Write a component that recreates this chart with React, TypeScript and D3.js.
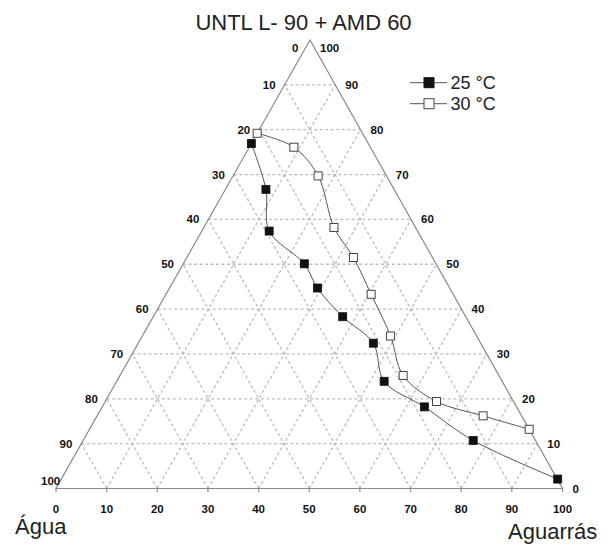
import React from 'react';
import * as d3 from 'd3';

// ternary data: aguarrás % (bottom axis) and tensoativo % (top vertex)
const aguarras25 = [0.0, 8.0, 13.3, 23.9, 29.2, 37.4, 46.4, 52.8, 63.6, 77.0, 98.0];
const tensoativo25 = [76.9, 66.7, 57.4, 50.1, 44.7, 38.3, 32.4, 23.9, 18.2, 10.7, 2.1];
const aguarras30 = [0.0, 8.8, 16.8, 25.7, 32.9, 40.5, 49.0, 55.9, 65.4, 76.2, 86.8];
const tensoativo30 = [79.2, 76.1, 69.7, 58.2, 51.5, 43.3, 34.0, 25.2, 19.4, 16.2, 13.2];

const ticks = [0, 10, 20, 30, 40, 50, 60, 70, 80, 90, 100];
const gridLevels = [10, 20, 30, 40, 50, 60, 70, 80, 90];
const seriesLabels = ['25 °C', '30 °C'];

const W = 613;
const H = 546;
const left = { x: 56, y: 488.5 };
const right = { x: 562.5, y: 488.5 };
const apex = { x: 310, y: 40 };

const aScale = d3.scaleLinear().domain([0, 100]).range([0, right.x - left.x]);
const sxScale = d3.scaleLinear().domain([0, 100]).range([0, apex.x - left.x]);
const yScale = d3.scaleLinear().domain([0, 100]).range([left.y, apex.y]);

const project = (a: number, s: number): [number, number] => [
  left.x + aScale(a) + sxScale(s),
  yScale(s),
];

const font = '"Liberation Sans", Arial, Helvetica, sans-serif';
const gridColor = '#bdbdbd';
const edgeColor = '#8a8a8a';
const lineColor = '#555';

export default function App() {
  const line = d3
    .line<[number, number]>()
    .x(d => d[0])
    .y(d => d[1])
    .curve(d3.curveCatmullRom.alpha(0.5));

  const pts25 = aguarras25.map((a, i) => project(a, tensoativo25[i]));
  const pts30 = aguarras30.map((a, i) => project(a, tensoativo30[i]));

  const grid: [number, number][][] = [];
  gridLevels.forEach(v => {
    grid.push([project(0, v), project(100 - v, v)]); // constant tensoativo
    grid.push([project(v, 0), project(v, 100 - v)]); // constant aguarrás
    grid.push([project(100 - v, 0), project(0, 100 - v)]); // constant água
  });

  const labelY = (s: number) => Math.min(Math.max(yScale(s), 48), 481);
  const edgeLeftX = (y: number) => left.x + ((left.y - y) / (left.y - apex.y)) * (apex.x - left.x);
  const edgeRightX = (y: number) => right.x - ((right.y - y) / (right.y - apex.y)) * (right.x - apex.x);

  const ms = 8;

  return (
    <div style={{ position: 'absolute', left: 0, top: 0 }}>
      <svg width={W} height={H} style={{ display: 'block', background: '#fff' }} fontFamily={font}>
        <text x={303.5} y={29.5} fontSize={22} textAnchor="middle" fill="#222">
          UNTL L- 90 + AMD 60
        </text>

        {grid.map((g, i) => (
          <line
            key={i}
            x1={g[0][0]}
            y1={g[0][1]}
            x2={g[1][0]}
            y2={g[1][1]}
            stroke={gridColor}
            strokeWidth={1.3}
            strokeDasharray="3,2.5"
          />
        ))}

        <polygon
          points={[left, right, apex].map(p => `${p.x},${p.y}`).join(' ')}
          fill="none"
          stroke={edgeColor}
          strokeWidth={1.2}
        />

        {ticks.map(t => {
          const [x, y] = project(t, 0);
          return (
            <g key={'b' + t}>
              <line x1={x} y1={y} x2={x} y2={y + 3.5} stroke={edgeColor} strokeWidth={1.2} />
              <text x={x} y={y + 24.5} fontSize={11.5} fontWeight="bold" textAnchor="middle" fill="#111">
                {t}
              </text>
            </g>
          );
        })}

        {ticks.map(t => {
          const y = labelY(100 - t);
          const off = t === 100 ? 0 : t === 0 ? 7 : 9;
          return (
            <text
              key={'l' + t}
              x={edgeLeftX(y) - off}
              y={y}
              dy="0.35em"
              fontSize={11.5}
              fontWeight="bold"
              textAnchor="end"
              fill="#111"
            >
              {t}
            </text>
          );
        })}

        {ticks.map(t => {
          const y = t === 0 ? yScale(0) : labelY(t);
          const off = t === 100 ? 5.5 : 10;
          return (
            <text
              key={'r' + t}
              x={edgeRightX(y) + off}
              y={y}
              dy="0.35em"
              fontSize={11.5}
              fontWeight="bold"
              textAnchor="start"
              fill="#111"
            >
              {t}
            </text>
          );
        })}

        <path d={line(pts25) || ''} fill="none" stroke={lineColor} strokeWidth={1} />
        <path d={line(pts30) || ''} fill="none" stroke={lineColor} strokeWidth={1} />

        {pts25.map((p, i) => (
          <rect key={'f' + i} x={p[0] - ms / 2} y={p[1] - ms / 2} width={ms} height={ms} fill="#111" stroke="#111" strokeWidth={0.8} />
        ))}
        {pts30.map((p, i) => (
          <rect key={'o' + i} x={p[0] - ms / 2} y={p[1] - ms / 2} width={ms} height={ms} fill="#fff" stroke="#444" strokeWidth={1} />
        ))}

        <text x={15} y={534} fontSize={22} fill="#222">Água</text>
        <text x={508} y={538.5} fontSize={22} fill="#222">Aguarrás</text>

        {seriesLabels.map((lbl, i) => {
          const y = 82.7 + i * 21;
          return (
            <g key={lbl}>
              <line x1={410} y1={y} x2={447} y2={y} stroke={lineColor} strokeWidth={1} />
              <rect
                x={424}
                y={y - 5}
                width={10}
                height={10}
                fill={i === 0 ? '#111' : '#fff'}
                stroke={i === 0 ? '#111' : '#444'}
                strokeWidth={1}
              />
              <text x={450.5} y={y + 5.8} fontSize={18} fill="#222">
                {lbl}
              </text>
            </g>
          );
        })}
      </svg>
    </div>
  );
}
